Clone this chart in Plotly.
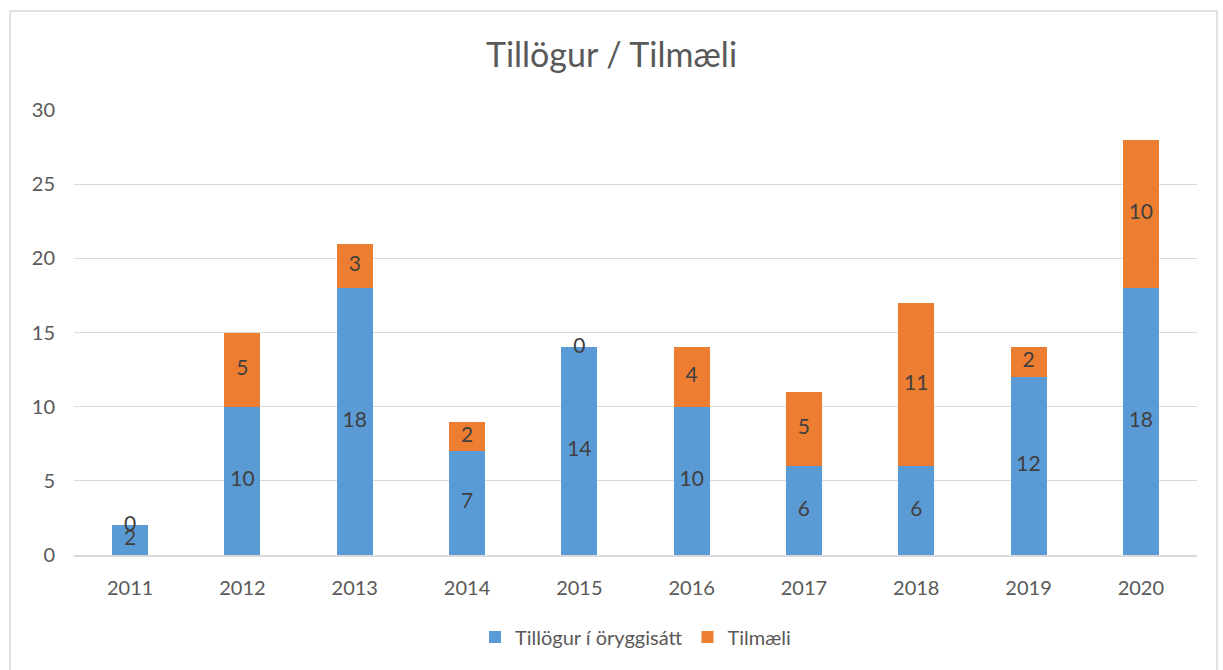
import plotly.graph_objects as go

years = ["2011", "2012", "2013", "2014", "2015", "2016", "2017", "2018", "2019", "2020"]
tillogur = [2, 10, 18, 7, 14, 10, 6, 6, 12, 18]
tilmaeli = [0, 5, 3, 2, 0, 4, 5, 11, 2, 10]

blue = "#5B9BD5"
orange = "#ED7D31"
font_family = "Lato, Open Sans, sans-serif"

fig = go.Figure()
fig.add_bar(x=years, y=tillogur, name="Tillögur í öryggisátt", marker_color=blue,
            marker_line_width=0, hoverinfo="y")
fig.add_bar(x=years, y=tilmaeli, name="Tilmæli", marker_color=orange,
            marker_line_width=0, hoverinfo="y")

# data labels at the centre of each segment
fig.add_scatter(x=years, y=[v / 2 for v in tillogur], text=[str(v) for v in tillogur],
                mode="text", textfont=dict(size=21, color="#404040", family=font_family),
                showlegend=False, hoverinfo="skip")
fig.add_scatter(x=years, y=[a + b / 2 for a, b in zip(tillogur, tilmaeli)],
                text=[str(v) for v in tilmaeli],
                mode="text", textfont=dict(size=21, color="#404040", family=font_family),
                showlegend=False, hoverinfo="skip")

fig.update_layout(
    barmode="stack",
    bargap=0.68,
    width=1223, height=670,
    margin=dict(l=74, r=26, t=110, b=115),
    paper_bgcolor="white", plot_bgcolor="white",
    font=dict(family=font_family, color="#595959", size=20),
    title=dict(text="Tillögur / Tilmæli", x=0.5, xanchor="center", y=0.918, yanchor="middle",
               yref="container", font=dict(size=34, color="#595959", family=font_family)),
    legend=dict(orientation="h", x=0.5, xanchor="center", y=-0.184, yanchor="middle",
                font=dict(size=20, color="#595959"), traceorder="normal"),
    xaxis=dict(showgrid=False, showline=True, linecolor="#d9d9d9", linewidth=1.5,
               ticks="", ticklabelstandoff=14, tickfont=dict(size=20, color="#595959")),
    yaxis=dict(range=[0, 30], dtick=5, showgrid=True, gridcolor="#d9d9d9", gridwidth=1,
               zeroline=False, showline=False, ticks="", ticklabelstandoff=18,
               tickfont=dict(size=20, color="#595959")),
    shapes=[dict(type="rect", xref="paper", yref="paper", x0=-0.057, x1=1.0178,
                 y0=-0.26, y1=1.2225, line=dict(color="#d9d9d9", width=1.5),
                 fillcolor="rgba(0,0,0,0)", layer="below")],
)

fig.write_html("out.html", config={"displayModeBar": False},
               post_script="document.body.style.margin='0';")
